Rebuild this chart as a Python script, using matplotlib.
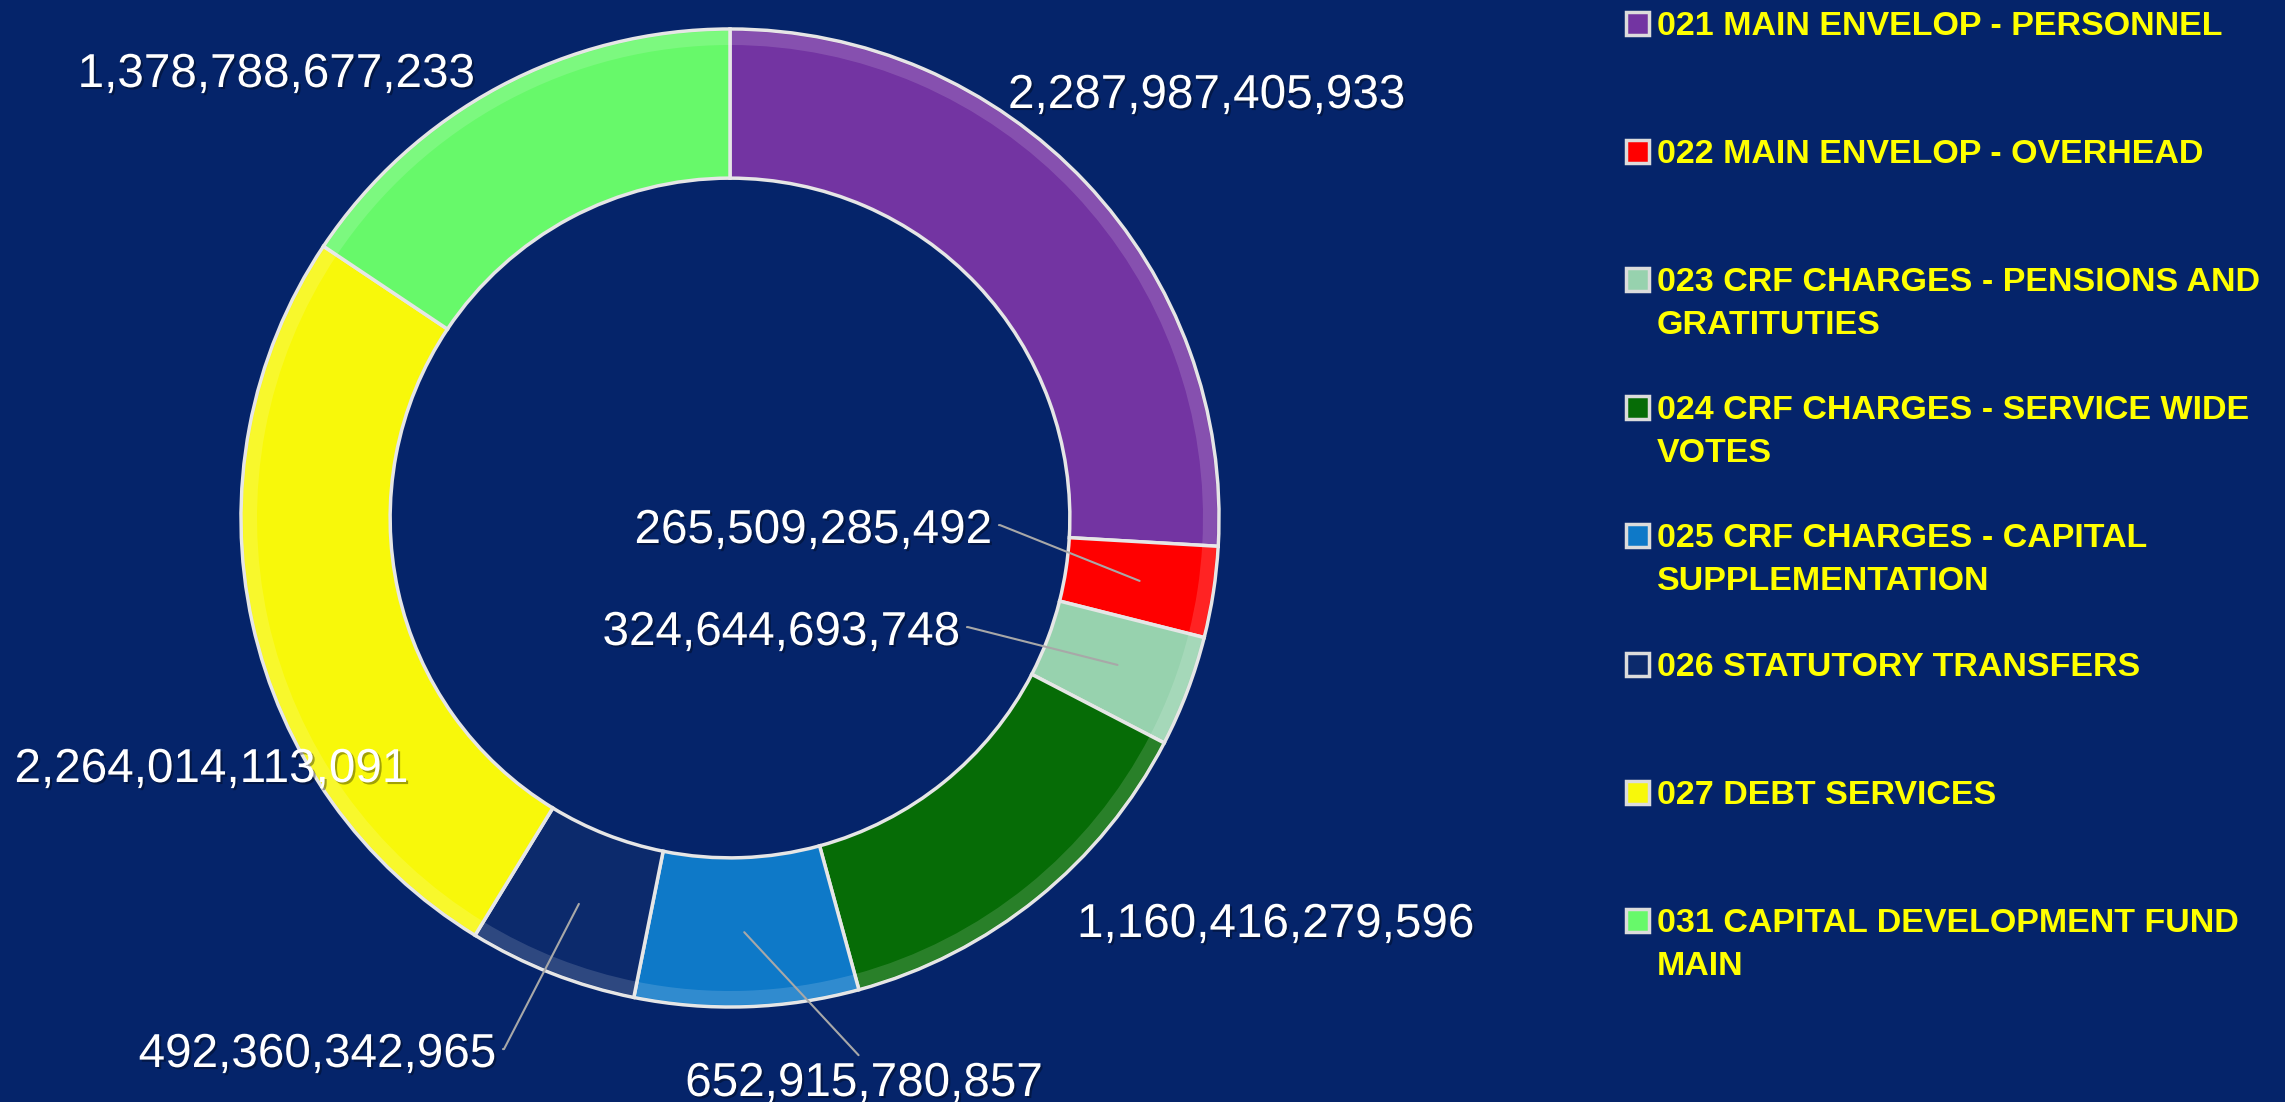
import numpy as np
import matplotlib
matplotlib.use('Agg')
import matplotlib.pyplot as plt
from matplotlib.patches import Rectangle, Wedge
import matplotlib.patheffects as pe

# budget heads and amounts (naira)
heads = ['021 MAIN ENVELOP - PERSONNEL',
         '022 MAIN ENVELOP - OVERHEAD',
         '023 CRF CHARGES - PENSIONS AND\nGRATITUTIES',
         '024 CRF CHARGES - SERVICE WIDE\nVOTES',
         '025 CRF CHARGES - CAPITAL\nSUPPLEMENTATION',
         '026 STATUTORY TRANSFERS',
         '027 DEBT SERVICES',
         '031 CAPITAL DEVELOPMENT FUND\nMAIN']
amounts = [2287987405933, 265509285492, 324644693748, 1160416279596,
           652915780857, 492360342965, 2264014113091, 1378788677233]
colors = ['#7334A2', '#FF0000', '#97D2AE', '#066C06',
          '#0E79C8', '#0C2A6C', '#F8F80A', '#67F96A']

W, H = 2285, 1102
bg = '#05246A'

# label placement (pixels from top-left): x, baseline y, alignment, leader line
lab_x = [1008, 992, 960, 1077, 864, 496, 408, 475]
lab_base = [108, 543, 645, 937, 1096, 1067, 782, 87]
lab_ha = ['left', 'right', 'right', 'left', 'center', 'right', 'right', 'right']
leader = [False, True, True, False, True, True, False, False]

fig = plt.figure(figsize=(W / 100, H / 100), dpi=100, facecolor=bg)
ax = fig.add_axes([0, 0, 1, 1])
ax.set_facecolor(bg)

cx, cy, R = 730, H - 518, 489
ring = 0.305
wedges, _ = ax.pie(amounts, colors=colors, startangle=90, counterclock=False,
                   radius=R, center=(cx, cy),
                   wedgeprops=dict(width=R * ring, edgecolor='#e6e6e6', linewidth=2.5))
# soft highlight along the outer rim, like the bevelled slices
for w in wedges:
    ax.add_patch(Wedge((cx, cy), R - 2, w.theta1, w.theta2, width=14,
                       facecolor='white', alpha=0.14, lw=0))
ax.set_xlim(0, W)
ax.set_ylim(0, H)
ax.set_aspect('equal')
ax.axis('off')

shadow = [pe.withSimplePatchShadow(offset=(1.5, -1.5), shadow_rgbFace='black', alpha=0.35)]
for i, w in enumerate(wedges):
    txt = f'{amounts[i]:,}'
    x, y = lab_x[i], H - lab_base[i]
    if leader[i]:
        mid = np.deg2rad((w.theta1 + w.theta2) / 2)
        rm = R * (1 - ring / 2)
        px, py = cx + rm * np.cos(mid), cy + rm * np.sin(mid)
        if lab_ha[i] == 'center':
            rel, cs = (0.5, 1.0), 'arc3'
        else:
            rel, cs = (1.0, 0.62), 'arc,angleA=0,armA=8,angleB=0,armB=0,rad=0'
        ax.annotate(txt, xy=(px, py), xytext=(x, y), ha=lab_ha[i], va='baseline',
                    color='white', fontsize=34.3, family='Liberation Sans',
                    path_effects=shadow,
                    arrowprops=dict(arrowstyle='-', color='#a8a8a8', lw=1.5,
                                    relpos=rel, shrinkA=3, shrinkB=0,
                                    connectionstyle=cs))
    else:
        ax.text(x, y, txt, ha=lab_ha[i], va='baseline', color='white',
                fontsize=34.3, family='Liberation Sans', path_effects=shadow)

# legend on the right
for i, (lab, col) in enumerate(zip(heads, colors)):
    yc = H - (23 + 128.1 * i)
    ax.add_patch(Rectangle((1626, yc - 12), 23, 23, facecolor=col,
                           edgecolor='#dcdcdc', lw=2.5))
    for j, line in enumerate(lab.split('\n')):
        ax.text(1657, yc - 12 - j * 43, line, color='#FFFF00', fontsize=24.5,
                fontweight='bold', family='Liberation Sans', va='baseline')

fig.savefig('out.png', dpi=100, facecolor=bg)
